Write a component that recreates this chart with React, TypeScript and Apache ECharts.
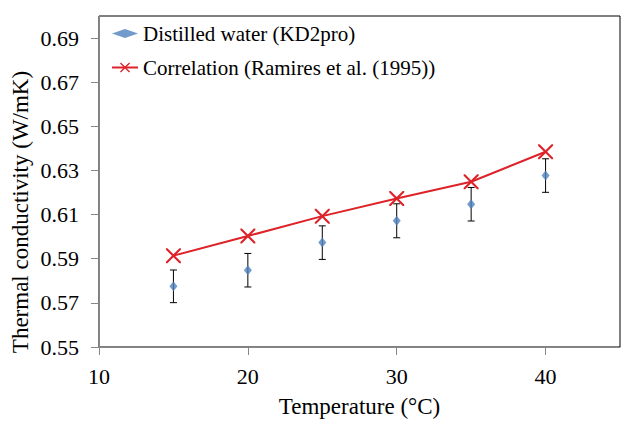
import React, { useEffect, useRef } from 'react';
import * as echarts from 'echarts';

const temperatures = [15, 20, 25, 30, 35, 40];
const measured = [0.5775, 0.5848, 0.5973, 0.6072, 0.6147, 0.6277];
const measuredError = [0.0074, 0.0076, 0.0076, 0.0077, 0.0076, 0.0076];
const correlation = [0.5914, 0.6003, 0.6093, 0.6173, 0.6249, 0.6385];
const xTicks = [10, 20, 30, 40];
const yTicks = [0.55, 0.57, 0.59, 0.61, 0.63, 0.65, 0.67, 0.69];

const measuredName = 'Distilled water (KD2pro)';
const correlationName = 'Correlation (Ramires et al. (1995))';
const xTitle = 'Temperature (°C)';
const yTitle = 'Thermal conductivity (W/mK)';

const FONT = 'Liberation Serif';
const RED = '#DD2228';
const BLUE = '#4F81BD';
const AXIS_GREY = '#868686';
const X_SYMBOL =
  'path://M0,0 L2,0 L10,8 L18,0 L20,0 L20,2 L12,10 L20,18 L20,20 L18,20 L10,12 L2,20 L0,20 L0,18 L8,10 L0,2 Z';

export default function App() {
  const ref = useRef<HTMLDivElement>(null);

  useEffect(() => {
    if (!ref.current) return;
    const chart = echarts.init(ref.current, undefined, { renderer: 'svg' });

    const measuredData = temperatures.map((t, i) => [t, measured[i]]);
    const corrData = temperatures.map((t, i) => [t, correlation[i]]);

    const errorSeries = temperatures.map((t, i) => ({
      type: 'line',
      name: `error-${t}`,
      data: [
        [t, measured[i] - measuredError[i]],
        [t, measured[i] + measuredError[i]],
      ],
      symbol: 'rect',
      symbolSize: [7, 1],
      showAllSymbol: true,
      lineStyle: { color: '#000', width: 1 },
      itemStyle: { color: '#000' },
      z: 2,
      silent: true,
    }));

    const option: any = {
      animation: false,
      grid: {
        left: 99,
        right: 22,
        top: 16,
        bottom: 77,
        show: true,
        borderColor: '#000000',
        borderWidth: 1,
        backgroundColor: 'transparent',
      },
      xAxis: {
        type: 'value',
        min: 10,
        max: 45,
        interval: 10,
        axisLine: { onZero: false, lineStyle: { color: AXIS_GREY, width: 1 } },
        axisTick: { customValues: xTicks, length: 8, lineStyle: { color: AXIS_GREY } },
        axisLabel: { showMaxLabel: false, margin: 18, fontFamily: FONT, fontSize: 22, color: '#000' },
        splitLine: { show: false },
      },
      yAxis: {
        type: 'value',
        min: 0.55,
        max: 0.7,
        interval: 0.02,
        axisLine: { show: true, lineStyle: { color: AXIS_GREY, width: 1 } },
        axisTick: { show: true, customValues: yTicks, length: 8, lineStyle: { color: AXIS_GREY } },
        axisLabel: {
          showMaxLabel: false,
          margin: 20,
          fontFamily: FONT,
          fontSize: 22,
          color: '#000',
          formatter: (v: number) => v.toFixed(2),
        },
        splitLine: { show: false },
      },
      legend: [
        {
          data: [measuredName],
          left: 112,
          top: 23,
          padding: 0,
          itemWidth: 26,
          itemHeight: 9,
          symbolKeepAspect: true,
          textStyle: { fontFamily: FONT, fontSize: 21, color: '#000' },
        },
        {
          data: [correlationName],
          left: 111,
          top: 57,
          padding: 0,
          itemWidth: 26,
          itemHeight: 12,
          textStyle: { fontFamily: FONT, fontSize: 21, color: '#000' },
        },
      ],
      graphic: [
        {
          type: 'text',
          x: 359.5,
          y: 406,
          style: {
            text: xTitle,
            font: '23px "Liberation Serif"',
            fill: '#000',
            align: 'center',
            verticalAlign: 'middle',
          },
        },
        {
          type: 'text',
          x: 20,
          y: 212,
          rotation: Math.PI / 2,
          style: {
            text: yTitle,
            font: '23px "Liberation Serif"',
            fill: '#000',
            align: 'center',
            verticalAlign: 'middle',
          },
        },
      ],
      series: [
        ...errorSeries,
        {
          type: 'scatter',
          name: measuredName,
          data: measuredData,
          symbol: 'diamond',
          symbolSize: [8, 10],
          itemStyle: { color: BLUE },
          z: 3,
        },
        {
          type: 'line',
          name: correlationName,
          data: corrData,
          symbol: X_SYMBOL,
          symbolSize: 15,
          showAllSymbol: true,
          lineStyle: { color: RED, width: 2 },
          itemStyle: { color: RED },
          z: 4,
        },
      ],
    };

    chart.setOption(option);
    return () => chart.dispose();
  }, []);

  return (
    <div
      ref={ref}
      style={{ position: 'absolute', left: 0, top: 0, width: 642, height: 424, background: '#fff' }}
    />
  );
}
